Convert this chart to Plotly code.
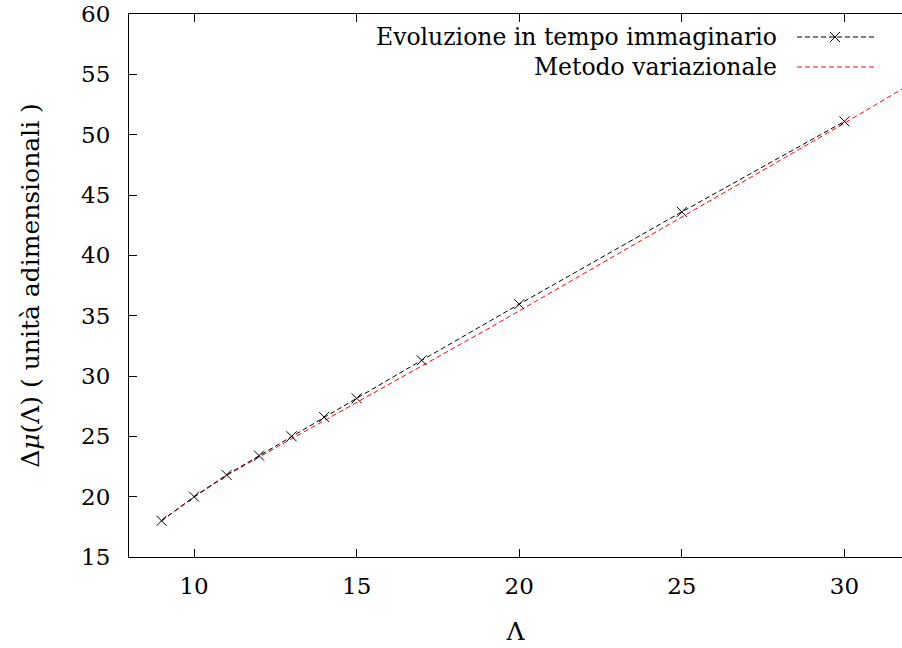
import plotly.graph_objects as go

# Data
lam_itime = [9, 10, 11, 12, 13, 14, 15, 17, 20, 25, 30]
dmu_itime = [18.0, 20.0, 21.8, 23.4, 25.0, 26.6, 28.15, 31.3, 35.95, 43.6, 51.1]

lam_var = [9, 10, 11, 12, 13, 14, 15, 16, 17, 18, 19, 20, 21, 22, 23, 24, 25, 26, 27, 28, 29, 30, 31, 32]
dmu_var = [18.0, 19.95, 21.75, 23.3, 24.8, 26.3, 27.8, 29.3, 30.8, 32.3, 33.85, 35.4,
           36.95, 38.5, 40.05, 41.6, 43.15, 44.7, 46.25, 47.8, 49.35, 50.95, 52.55, 54.15]

x_ticks = [10, 15, 20, 25, 30]
y_ticks = [15, 20, 25, 30, 35, 40, 45, 50, 55, 60]

legend_labels = ["Evoluzione in tempo immaginario", "Metodo variazionale"]
FONT = "DejaVu Serif"
FS = 23
DASH = "5px,3px"

fig = go.Figure()
fig.add_trace(go.Scatter(x=lam_var, y=dmu_var, mode="lines",
                         line=dict(color="red", width=1, dash=DASH),
                         showlegend=False, cliponaxis=True))
fig.add_trace(go.Scatter(x=lam_itime, y=dmu_itime, mode="lines+markers",
                         line=dict(color="black", width=1, dash=DASH),
                         marker=dict(symbol="x-thin", size=10, line=dict(color="black", width=1)),
                         showlegend=False))

# Manual gnuplot-style legend (text right-aligned, sample to the right)
rows_y = [37, 67]
for label, yy, col, mk in zip(legend_labels, rows_y, ["black", "red"], [True, False]):
    py = 1 - (yy - 14) / (557 - 14)
    fig.add_annotation(xref="paper", yref="paper", x=(779 - 129) / (902 - 129), y=py,
                       text=label, showarrow=False, xanchor="right", yanchor="middle",
                       font=dict(family=FONT, size=23.5, color="black"))
    fig.add_shape(type="line", xref="paper", yref="paper",
                  x0=(797 - 129) / (902 - 129), x1=(874 - 129) / (902 - 129),
                  y0=py, y1=py, line=dict(color=col, width=1, dash=DASH))
    if mk:
        cx = (835 - 129) / (902 - 129)
        dx = 5 / (902 - 129)
        dy = 5 / (557 - 14)
        fig.add_shape(type="line", xref="paper", yref="paper", x0=cx - dx, x1=cx + dx,
                      y0=py - dy, y1=py + dy, line=dict(color="black", width=1))
        fig.add_shape(type="line", xref="paper", yref="paper", x0=cx - dx, x1=cx + dx,
                      y0=py + dy, y1=py - dy, line=dict(color="black", width=1))

fig.update_layout(
    width=902, height=648,
    margin=dict(l=129, r=0, t=14, b=91),
    paper_bgcolor="white", plot_bgcolor="white",
    font=dict(family=FONT, size=FS, color="black"),
    xaxis=dict(range=[8, 8 + (902 - 129) / 32.52], tickvals=x_ticks,
               ticks="inside", ticklen=8, tickcolor="black", tickwidth=1,
               showline=True, linecolor="black", linewidth=1, mirror="ticks",
               showgrid=False, zeroline=False, ticklabelstandoff=8,
               tickfont=dict(family=FONT, size=FS),
               title=dict(text="Λ", standoff=24, font=dict(family=FONT, size=25))),
    yaxis=dict(range=[15, 60], tickvals=y_ticks,
               ticks="inside", ticklen=8, tickcolor="black", tickwidth=1,
               showline=True, linecolor="black", linewidth=1,
               showgrid=False, zeroline=False, ticklabelstandoff=13,
               tickfont=dict(family=FONT, size=FS),
               title=dict(text="Δ<i>μ</i>(Λ) ( unità adimensionali )", standoff=34,
                          font=dict(family=FONT, size=25))),
)

fig.write_html("out.html")
